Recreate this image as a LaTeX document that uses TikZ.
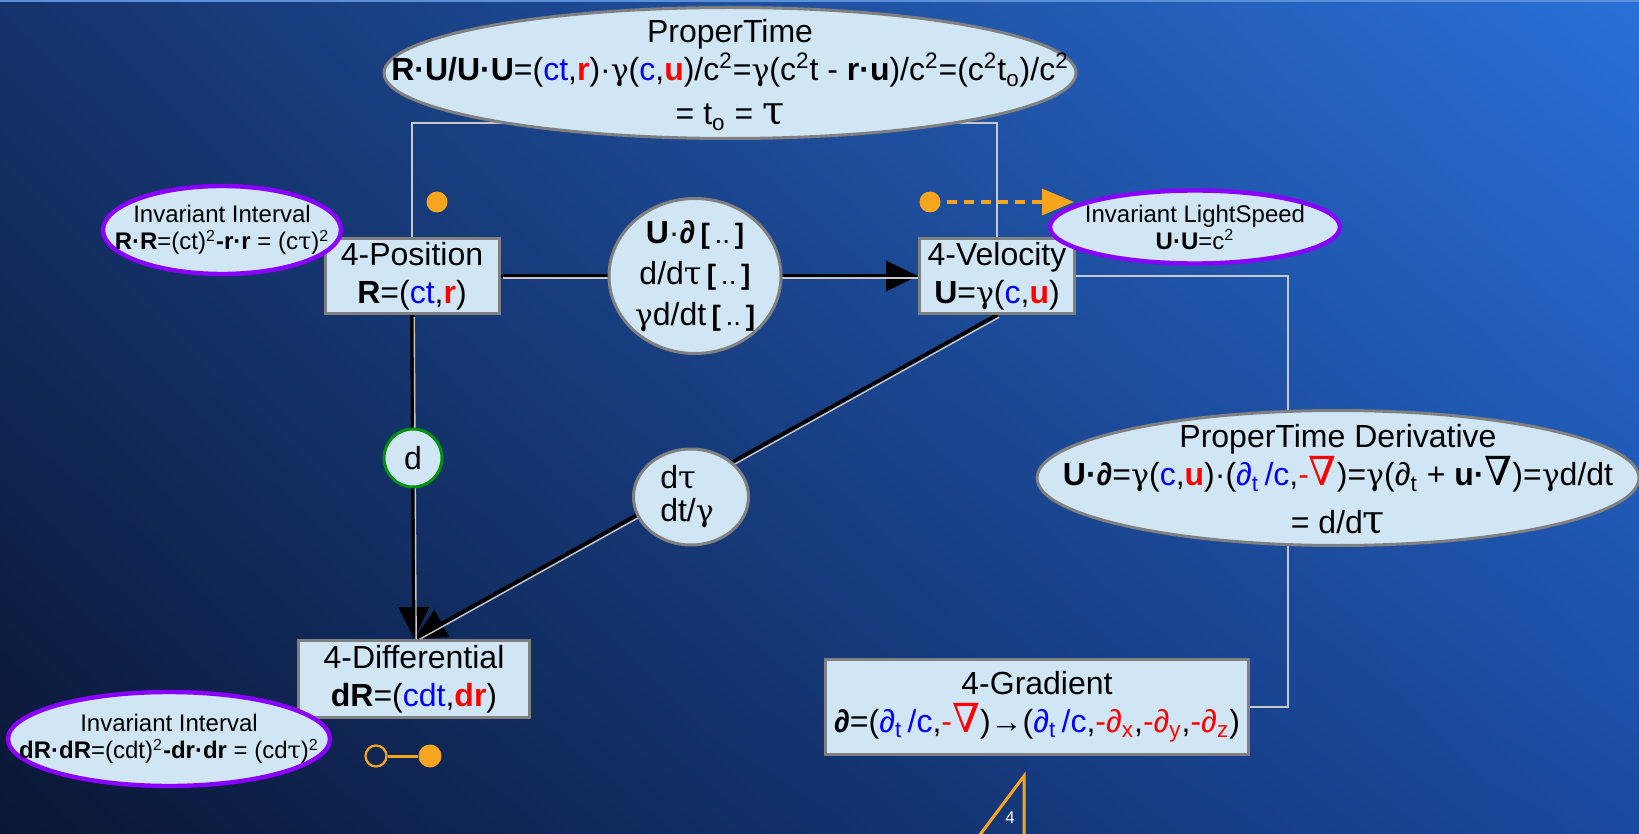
\documentclass[tikz,border=0pt]{standalone}
\usepackage{fontspec}
\setmainfont{Liberation Sans}
\newfontfamily\nablafont{DejaVu Serif}
\newfontfamily\greekfont{DejaVu Serif}
\usepackage{xcolor}
\usepackage{tikz}
\usetikzlibrary{arrows.meta,positioning,shapes.geometric,backgrounds,shadings}
\definecolor{NightBlue}{HTML}{0A1634}
\definecolor{DuskBlue}{HTML}{15336C}
\definecolor{SkyBlue}{HTML}{2A70D8}
\definecolor{SeaBlue}{HTML}{1A4AA0}
\definecolor{EdgeGlow}{HTML}{5C8FDA}
\definecolor{BoxFill}{HTML}{D0E6F5}
\definecolor{BoxEdge}{HTML}{808080}
\definecolor{Violet}{HTML}{8A00FF}
\definecolor{LeafGreen}{HTML}{009010}
\definecolor{Amber}{HTML}{F7A51E}
\definecolor{WireGray}{HTML}{C8C8C8}
\definecolor{TBlue}{HTML}{0000FF}
\definecolor{SRed}{HTML}{FF0000}
\newcommand{\tblue}[1]{{\color{TBlue}#1}}
\newcommand{\sred}[1]{{\color{SRed}#1}}
\newcommand{\ptwo}{\textsuperscript{2}}
\newcommand{\gammaup}{{\greekfont\fontsize{15}{15}\selectfont γ}}
\newcommand{\tauup}{{\greekfont\fontsize{16}{16}\selectfont τ}}
\newcommand{\bignabla}{{\nablafont\fontsize{20}{20}\selectfont ∇}}
\newcommand{\emptyslot}{{\fontsize{14}{14}\selectfont\textbf{[}\,..\,\textbf{]}}}

\begin{document}
\begin{tikzpicture}[x=0.5pt,y=-0.5pt,>=Latex,font=\fontsize{16}{19}\selectfont,
  box/.style={draw=BoxEdge,line width=1.5pt,fill=BoxFill,inner sep=1pt,align=center},
  oval/.style={ellipse,draw=BoxEdge,line width=1.5pt,fill=BoxFill,inner sep=0pt},
  invoval/.style={ellipse,draw=Violet,line width=2.2pt,fill=BoxFill,inner sep=0pt},
  ovaltext/.style={align=center,inner sep=0pt},
  smalltext/.style={align=center,inner sep=0pt,font=\fontsize{12}{13.5}\selectfont},
  wire/.style={WireGray,line width=1.3pt},
  flow/.style={line width=1.9pt,-{Triangle[length=16pt,width=15pt]}},
  glint/.style={WireGray,line width=0.7pt,transform canvas={xshift=1.1pt,yshift=-1.1pt}},
  dot/.style={circle,fill=Amber,inner sep=0pt,minimum size=10.5pt}]
  \useasboundingbox (0,0) rectangle (1639,834);
  % boxes
  \node[box,minimum width=87pt,minimum height=37.5pt] (pos) at (412,276) {4-Position\\\textbf{R}=(\tblue{ct},\sred{\textbf{r}})};
  \node[box,minimum width=77.5pt,minimum height=37.5pt] (vel) at (997,276) {4-Velocity\\\textbf{U}=\gammaup(\tblue{c},\sred{\textbf{u}})};
  \node[box,minimum width=115.5pt,minimum height=38.5pt] (diff) at (414,679) {4-Differential\\\textbf{dR}=(\tblue{cdt},\sred{\textbf{dr}})};
  \node[box,minimum width=211.5pt,minimum height=47.5pt] (grad) at (1037,707) {4-Gradient\\\textbf{∂}=(\tblue{∂\textsubscript{t}\,/c},\sred{-\bignabla})→(\tblue{∂\textsubscript{t}\,/c},\sred{-∂\textsubscript{x}},\sred{-∂\textsubscript{y}},\sred{-∂\textsubscript{z}})};
  % ovals
  \node[oval,minimum width=346pt,minimum height=65.5pt] (ptOval) at (730,73) {};
  \node[ovaltext] (ptText) at ([yshift=-1pt]ptOval) {ProperTime\\\textbf{R·U/U·U}=(\tblue{ct},\sred{\textbf{r}})·\gammaup(\tblue{c},\sred{\textbf{u}})/c\ptwo=\gammaup(c\ptwo t - \textbf{r·u})/c\ptwo=(c\ptwo t\textsubscript{o})/c\ptwo\\[3pt]= t\textsubscript{o} = {\greekfont\fontsize{20}{20}\selectfont τ}};
  \node[oval,minimum width=86pt,minimum height=77.5pt] (opOval) at (695,276) {};
  \node[ovaltext,font=\fontsize{16}{20.5}\selectfont] (opText) at (opOval) {\textbf{U}·\textbf{∂}\,\emptyslot\\d/d\tauup\,\emptyslot\\\gammaup d/dt\,\emptyslot};
  \node[oval,minimum width=57.5pt,minimum height=48pt] (tauOval) at (691,497) {};
  \node[ovaltext,align=left,font=\fontsize{16}{16.5}\selectfont] (tauText) at ([xshift=-2pt]tauOval) {d\tauup\\dt/\gammaup};
  \node[oval,minimum width=301pt,minimum height=67.5pt] (ptdOval) at (1338,478) {};
  \node[ovaltext] (ptdText) at ([yshift=-1pt]ptdOval) {ProperTime Derivative\\\textbf{U·∂}=\gammaup(\tblue{c},\sred{\textbf{u}})·(\tblue{∂\textsubscript{t}\,/c},\sred{-\bignabla})=\gammaup(∂\textsubscript{t} + \textbf{u·}\bignabla)=\gammaup d/dt\\[5pt]= d/d{\greekfont\fontsize{20}{20}\selectfont τ}};
  \node[circle,draw=LeafGreen,line width=1.5pt,fill=BoxFill,minimum size=29pt,inner sep=0pt] (dOp) at (413,458) {d};
  % invariants
  \node[invoval,minimum width=119pt,minimum height=44pt] (ivTop) at (222,230) {};
  \node[smalltext] (ivTopText) at (ivTop) {Invariant Interval\\\textbf{R·R}=(ct)\ptwo\textbf{-r·r} = (c{\greekfont τ})\ptwo};
  \node[invoval,minimum width=145pt,minimum height=36.5pt] (lsOval) at (1195,227) {};
  \node[smalltext] (lsText) at (lsOval) {Invariant LightSpeed\\\textbf{U·U}=c\ptwo};
  \node[invoval,minimum width=161pt,minimum height=47pt] (ivLow) at (169,739) {};
  \node[smalltext] (ivLowText) at (ivLow) {Invariant Interval\\\textbf{dR·dR}=(cdt)\ptwo\textbf{-dr·dr} = (cd{\greekfont τ})\ptwo};
  % orange marks
  \node[dot] (posDot) at (437,202) {};
  \node[dot] (velDot) at (930,202) {};
  \coordinate (lsTip) at (1074,202);
  \draw[Amber,line width=1.6pt,dash pattern=on 5pt off 3.5pt,-{Triangle[length=16pt,width=13pt]}] (velDot.center) -- (lsTip);
  \node[circle,draw=Amber,line width=1.1pt,inner sep=0pt,minimum size=10.5pt] (openDot) at (376,756) {};
  \node[dot,minimum size=11.5pt] (fullDot) at (430,756) {};
  \draw[Amber,line width=1.5pt] (openDot) -- (fullDot);
  \draw[Amber,line width=1.5pt,line join=miter] (979,836) -- (1024,776) -- (1024,836);
  \node[text=white,font=\fontsize{8.5}{8.5}\selectfont] (pageNo) at (1010,818) {4};
  \begin{scope}[on background layer]
    \shade[upper left=DuskBlue,upper right=SkyBlue,lower left=NightBlue,lower right=SeaBlue] (0,0) rectangle (1639,834);
    \draw[EdgeGlow,line width=1pt] (0,1) -- (1639,1);
    \coordinate (ptJoin) at (730,123);
    \coordinate (ptdJoin) at (1288,478);
    \draw[wire] (pos.north) |- (ptJoin) -| (vel.north);
    \draw[wire] (vel.east) -| (ptdJoin) |- (grad.east);
    \draw[flow] (pos.east) -- (vel.west);
    \draw[flow] (pos.south) -- (diff.north);
    \draw[flow] (vel.south) -- (diff.north);
    \draw[glint] (pos.east) -- (vel.west);
    \draw[glint] (pos.south) -- (diff.north);
    \draw[glint] (vel.south) -- (diff.north);
  \end{scope}
\end{tikzpicture}
\end{document}
